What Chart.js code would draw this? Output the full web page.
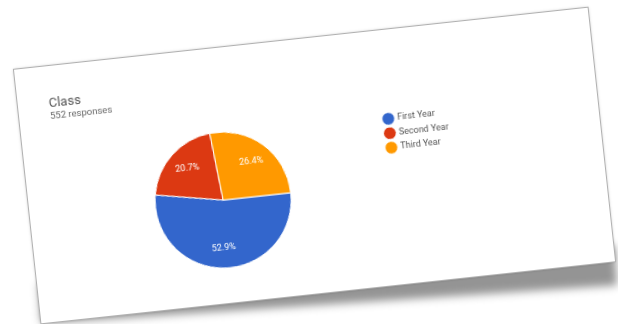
<!DOCTYPE html>
<html>
<head>
<meta charset="utf-8">
<script src="https://cdn.jsdelivr.net/npm/chart.js@4.4.1/dist/chart.umd.min.js"></script>
<style>
  html, body { margin: 0; padding: 0; background: #fff; overflow: hidden; }
  body { width: 618px; height: 324px; position: relative; }
  .photo {
    position: absolute;
    left: 26px; top: 38px;
    width: 577px; height: 255px;
    transform: rotate(-6.17deg);
    filter: blur(0.6px);
  }
  .shade {
    position: absolute;
    left: 0; top: 215px;
    width: 577px; height: 40px;
    background: rgba(0, 0, 0, 0.42);
    transform-origin: 0 100%;
    transform: rotate(2.4deg);
    filter: blur(4px);
  }
  .card {
    position: absolute;
    left: 0; top: 0;
    width: 577px; height: 255px;
    background: #fff;
    box-shadow: 0 0 0 1px #b0b0b0, 0 0 3px rgba(0, 0, 0, 0.35);
  }
  .card canvas { position: absolute; left: 0; top: 0; }
</style>
</head>
<body>
<div class="photo">
  <div class="shade"></div>
  <div class="card">
    <canvas id="chart" width="577" height="255"></canvas>
  </div>
</div>
<script>
const categories = ['First Year', 'Second Year', 'Third Year'];
const responses = [292, 114, 146];
const questionTitle = 'Class';

const total = responses.reduce((a, b) => a + b, 0);

// percent text inside each slice, like google forms does
const sliceLabels = {
  id: 'sliceLabels',
  afterDatasetsDraw(chart) {
    const { ctx } = chart;
    const meta = chart.getDatasetMeta(0);
    ctx.save();
    ctx.fillStyle = '#fff';
    ctx.font = '9px Roboto, Arial, sans-serif';
    ctx.textAlign = 'center';
    ctx.textBaseline = 'middle';
    meta.data.forEach((arc, i) => {
      const mid = (arc.startAngle + arc.endAngle) / 2;
      const r = arc.outerRadius * 0.7;
      const pct = (responses[i] / total * 100).toFixed(1) + '%';
      ctx.fillText(pct, arc.x + Math.cos(mid) * r, arc.y + Math.sin(mid) * r);
    });
    ctx.restore();
  },
};

new Chart(document.getElementById('chart'), {
  type: 'pie',
  data: {
    labels: categories,
    datasets: [{
      data: responses,
      backgroundColor: ['#3366cc', '#dc3912', '#ff9900'],
      borderColor: '#ffffff',
      borderWidth: 1,
    }],
  },
  options: {
    responsive: false,
    animation: false,
    rotation: 90,
    radius: 68,
    layout: {
      padding: { left: 31, right: 141, top: 0, bottom: 30 },
    },
    plugins: {
      tooltip: { enabled: false },
      title: {
        display: true,
        text: questionTitle,
        align: 'start',
        color: '#555',
        font: { family: 'Roboto, Arial, sans-serif', size: 13, weight: 'normal' },
        padding: { top: 29.5, bottom: 0 },
      },
      subtitle: {
        display: true,
        text: `${total} responses`,
        align: 'start',
        color: '#666',
        font: { family: 'Roboto, Arial, sans-serif', size: 9.5 },
        padding: { top: 0, bottom: 22.5 },
      },
      legend: {
        position: 'right',
        align: 'start',
        fullSize: false,
        labels: {
          usePointStyle: true,
          pointStyle: 'circle',
          boxWidth: 9,
          boxHeight: 9,
          padding: 5.5,
          color: '#555',
          font: { family: 'Roboto, Arial, sans-serif', size: 9 },
        },
      },
    },
  },
  plugins: [sliceLabels],
});
</script>
</body>
</html>
